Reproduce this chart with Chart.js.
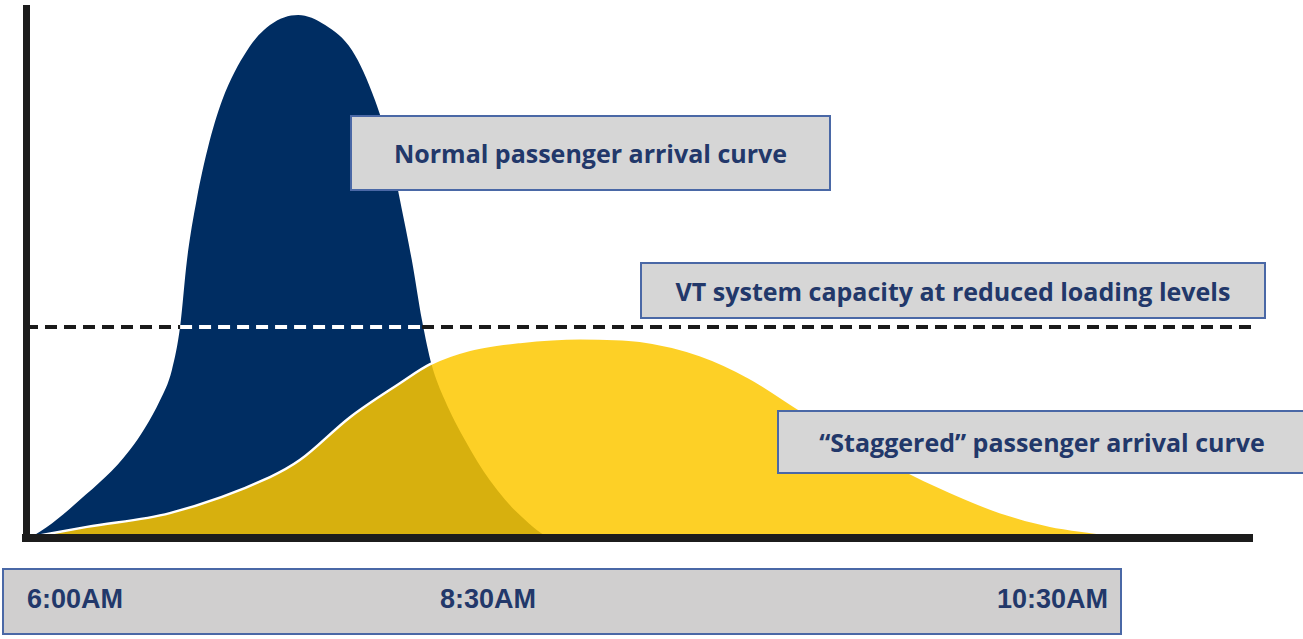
<!DOCTYPE html>
<html>
<head>
<meta charset="utf-8">
<script src="https://cdn.jsdelivr.net/npm/chart.js@4/dist/chart.umd.min.js"></script>
<style>
  html, body { margin: 0; padding: 0; background: #fff; }
  #wrap { position: relative; width: 1303px; height: 639px; overflow: hidden; }
  #c { position: absolute; left: 0; top: 0; }
  .note {
    position: absolute; box-sizing: border-box;
    background: #d6d6d6; border: 2px solid #4a68a6;
    color: #22386a; font-family: "Open Sans", Lato, sans-serif; font-weight: 700;
    font-size: 25px; display: flex; align-items: center; justify-content: center;
  }
  #ticks {
    position: absolute; left: 2px; top: 568px; width: 1120px; height: 67px; box-sizing: border-box;
    background: #d0cfcf; border: 2px solid #4a68a6;
  }
  #ticks span {
    position: absolute; top: 14px; color: #22386a; font-weight: 700; font-size: 27px;
    font-family: "Liberation Sans", sans-serif;
  }
</style>
</head>
<body>
<div id="wrap">
  <canvas id="c" width="1303" height="552"></canvas>
  <div class="note" style="left:350px;top:115px;width:481px;height:76px;">Normal passenger arrival curve</div>
  <div class="note" style="left:640px;top:262px;width:626px;height:57px;">VT system capacity at reduced loading levels</div>
  <div class="note" style="left:777px;top:410px;width:530px;height:64px;">“Staggered” passenger arrival curve</div>
  <div id="ticks"></div>
</div>
<script>
// x = minutes after 6:00AM, y = relative passenger arrivals (0-100)
const normalX = [0, 2.2, 13.2, 25.4, 32.8, 35.7, 37.7, 39.4, 41.8, 44.5, 48, 54.1, 59.7, 66.6, 73.2, 79.8, 85.4, 89.1, 91.5, 94.4, 96.9, 99.3, 102.5, 107.4, 113.5, 120.9, 129.4, 300];
const normalY = [0, 0.6, 7.2, 16.6, 26, 31.7, 39.8, 52.5, 64, 73.6, 82.6, 92, 96.8, 98.7, 96.8, 92, 82.6, 73.2, 63.8, 52.5, 41.1, 32.6, 26, 18.5, 10.9, 4.3, 0, 0];

const staggeredX = [0, 14.9, 35.2, 59.7, 67, 79.3, 91.5, 98.9, 108.6, 120.9, 135.6, 150.2, 164.9, 177.1, 189.4, 201.6, 213.9, 226.1, 238.3, 250.6, 262.8, 270.1, 300];
const staggeredY = [0, 2.1, 4.7, 11.5, 14.7, 22.8, 29.2, 32.8, 35.5, 37.0, 37.7, 37.2, 34.5, 30.2, 24.2, 18.5, 13.2, 8.7, 4.9, 2.3, 0.9, 0, 0];

// capacity line; the middle stretch (index 1..2) sits over the normal curve
const capacityX = [0, 37.7, 96.9, 301];
const capacityY = [39.8, 39.8, 39.8, 39.8];

const tickLabels = ['6:00AM', '8:30AM', '10:30AM'];
const tickLeft = [23, 436, 993];

const toPoints = (xs, ys) => xs.map((x, i) => ({ x: x, y: ys[i] }));

function capacityPart(from, to, color) {
  return {
    label: 'VT system capacity',
    data: toPoints(capacityX.slice(from, to + 1), capacityY.slice(from, to + 1)),
    borderWidth: 4,
    borderDash: [12, 7],
    borderColor: color,
    pointRadius: 0,
    fill: false,
    clip: false
  };
}

new Chart(document.getElementById('c').getContext('2d'), {
  type: 'line',
  data: {
    datasets: [
      capacityPart(0, 1, '#1a1a1a'),
      capacityPart(1, 2, '#ffffff'),
      capacityPart(2, 3, '#1a1a1a'),
      {
        label: 'Staggered',
        data: toPoints(staggeredX, staggeredY),
        borderColor: '#ffffff',
        borderWidth: 2.5,
        backgroundColor: 'rgba(253,200,0,0.85)',
        fill: 'origin',
        pointRadius: 0,
        cubicInterpolationMode: 'monotone'
      },
      {
        label: 'Normal',
        data: toPoints(normalX, normalY),
        borderColor: '#002d62',
        borderWidth: 0,
        backgroundColor: '#002d62',
        fill: 'origin',
        pointRadius: 0,
        cubicInterpolationMode: 'monotone'
      }
    ]
  },
  options: {
    responsive: false,
    animation: false,
    devicePixelRatio: 1,
    layout: { padding: { left: 26, top: 8, right: 51, bottom: 14 } },
    plugins: { legend: { display: false }, tooltip: { enabled: false } },
    scales: {
      x: {
        type: 'linear', min: 0, max: 300,
        ticks: { display: false },
        grid: { display: false, drawTicks: false },
        border: { display: true, width: 8, color: '#1c1c1c', z: 1 }
      },
      y: {
        min: 0, max: 100,
        ticks: { display: false },
        grid: { display: false, drawTicks: false },
        border: { display: true, width: 7, color: '#1c1c1c', z: 1 }
      }
    }
  }
});

const box = document.getElementById('ticks');
tickLabels.forEach((t, i) => {
  const s = document.createElement('span');
  s.textContent = t;
  s.style.left = tickLeft[i] + 'px';
  box.appendChild(s);
});
</script>
</body>
</html>
